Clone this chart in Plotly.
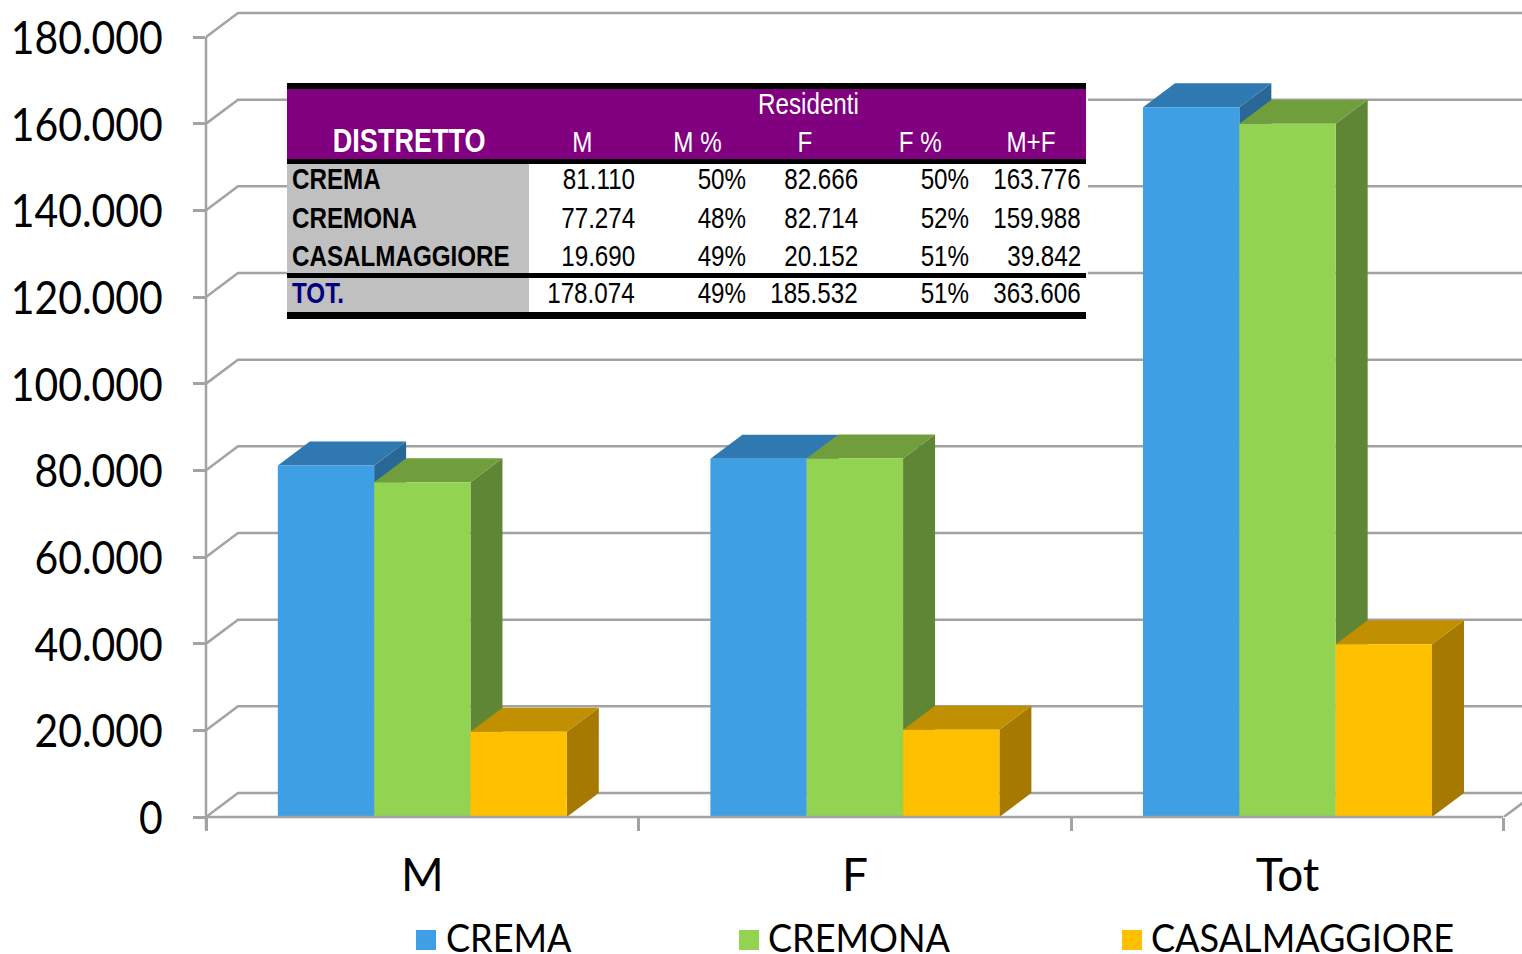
import plotly.graph_objects as go

# ---------- data ----------
CATEGORIES = ["M", "F", "Tot"]
CREMA = [81110, 82666, 163776]
CREMONA = [77274, 82714, 159988]
CASALMAGGIORE = [19690, 20152, 39842]
Y_TICKS = [0, 20000, 40000, 60000, 80000, 100000, 120000, 140000, 160000, 180000]

TABLE_HEAD = ["M", "M %", "F", "F %", "M+F"]
TABLE_NAMES = ["CREMA", "CREMONA", "CASALMAGGIORE", "TOT."]
TABLE_M = ["81.110", "77.274", "19.690", "178.074"]
TABLE_MP = ["50%", "48%", "49%", "49%"]
TABLE_F = ["82.666", "82.714", "20.152", "185.532"]
TABLE_FP = ["50%", "52%", "51%", "51%"]
TABLE_MF = ["163.776", "159.988", "39.842", "363.606"]

# ---------- styling ----------
W, H = 1522, 954
L, B = 206, 817
CAT_PX = 432.6
UNIT_PX = 780 / 180000
DEPTH_X = 32 / CAT_PX
DEPTH_Y = 24 / UNIT_PX
X_MIN = -0.5
X_MAX = X_MIN + (W - L) / CAT_PX
Y_MAX = B / UNIT_PX
BARGAP = 0.332
GRID = "#A3A3A3"
FONT = "Lato"
TFONT = "Liberation Sans"
SERIES = [
    ("CREMA", CREMA, "#3E9FE5", "#3079B0", "#296896"),
    ("CREMONA", CREMONA, "#92D351", "#709E3D", "#5F8634"),
    ("CASALMAGGIORE", CASALMAGGIORE, "#FFC000", "#C09000", "#A67A00"),
]


def px(x):
    return (x - L) / (W - L)


def py(y):
    return (B - y) / B


fig = go.Figure()


def poly(xs, ys, color):
    fig.add_trace(go.Scatter(x=xs, y=ys, mode="lines", fill="toself", fillcolor=color,
                             line=dict(width=0, color=color), hoverinfo="skip", showlegend=False))


def line(xs, ys, axis_x="x", axis_y="y"):
    fig.add_trace(go.Scatter(x=xs, y=ys, mode="lines", xaxis=axis_x, yaxis=axis_y, cliponaxis=False,
                             line=dict(color=GRID, width=2.5), hoverinfo="skip", showlegend=False))


# walls
for v in Y_TICKS:
    line([X_MIN, X_MIN + DEPTH_X, X_MAX], [v, v + DEPTH_Y, v + DEPTH_Y])

# depth faces, painted left to right
group_w = 1 - BARGAP
bar_w = group_w / 3
for c in range(len(CATEGORIES)):
    for s, (_, vals, _f, top, side) in enumerate(SERIES):
        x0 = c - group_w / 2 + s * bar_w
        x1 = x0 + bar_w
        v = vals[c]
        poly([x1, x1 + DEPTH_X, x1 + DEPTH_X, x1, x1], [0, DEPTH_Y, v + DEPTH_Y, v, 0], side)
        poly([x0, x0 + DEPTH_X, x1 + DEPTH_X, x1, x0], [v, v + DEPTH_Y, v + DEPTH_Y, v, v], top)

# front faces on the overlay axes
for name, vals, front, _t, _s in SERIES:
    fig.add_trace(go.Bar(x=list(range(len(CATEGORIES))), y=vals, name=name, xaxis="x2", yaxis="y2",
                         marker=dict(color=front, line=dict(width=0)), showlegend=False))
line([X_MIN + len(CATEGORIES), X_MIN + len(CATEGORIES) + DEPTH_X], [0, DEPTH_Y], "x2", "y2")

shapes = []
annots = []


def rect(x0, y0, x1, y1, color):
    shapes.append(dict(type="rect", xref="paper", yref="paper", x0=px(x0), x1=px(x1), y0=py(y0), y1=py(y1),
                       fillcolor=color, line=dict(width=0), layer="above"))


def text(x, y, s, anchor="center", size=29.5, color="black", bold=False, family=TFONT):
    annots.append(dict(xref="paper", yref="paper", x=px(x), y=py(y), text=s,
                       xanchor=anchor, yanchor="middle", showarrow=False, borderpad=0, borderwidth=0,
                       font=dict(family=family, size=size, color=color, weight=700 if bold else 400)))


# axis lines, so they are not cut in half by the edge of the plot area
rect(L, B - 1.25, 1503, B + 1.25, GRID)
rect(L - 1.25, 37, L + 1.25, B + 13, GRID)

# table
T_L, T_R, T_SPLIT = 287, 1086, 529
rect(T_L, 83, T_R + 2, 319, "white")
rect(T_L, 83, T_R, 89, "black")
rect(T_L, 89, T_R, 159, "#800080")
rect(T_L, 159, T_R, 164, "black")
rect(T_L, 164, T_SPLIT, 312, "#C0C0C0")
rect(T_L, 273, T_R, 278, "black")
rect(T_L, 312, T_R, 319, "black")
text(808, 104, "Residenti", color="white")
text(409, 140, "DISTRETTO", color="white", bold=True, size=33)
for cx, h in zip([582, 697, 805, 920, 1031], TABLE_HEAD):
    text(cx, 141, h, color="white")
ROW_Y = [179, 217, 256, 292]
for i, y in enumerate(ROW_Y):
    text(292, y, TABLE_NAMES[i], "left", bold=True, color="#000080" if i == 3 else "black")
    for rx, col in zip([635, 746, 858, 969, 1081], [TABLE_M, TABLE_MP, TABLE_F, TABLE_FP, TABLE_MF]):
        text(rx, y, col[i], "right")

# legend
for (name, _v, front, _t, _s), sx, tx in zip(SERIES, [416, 739, 1122], [446, 768, 1151]):
    rect(sx, 930, sx + 20, 950, front)
    text(tx, 937, name, "left", size=38, family=FONT)

fig.update_layout(
    width=W, height=H, autosize=False,
    margin=dict(l=L, r=0, t=0, b=H - B, pad=0, autoexpand=False),
    paper_bgcolor="white", plot_bgcolor="white",
    separators=",.", barmode="group", bargap=BARGAP, bargroupgap=0,
    showlegend=False, shapes=shapes, annotations=annots,
    font=dict(family=FONT, color="black"),
    xaxis=dict(range=[X_MIN, X_MAX], showgrid=False, zeroline=False, showline=False, automargin=False,
               tickmode="array", tickvals=list(range(len(CATEGORIES))), ticktext=CATEGORIES,
               ticks="", ticklabelstandoff=27, tickfont=dict(family=FONT, size=46, color="black"),
               minor=dict(tickmode="array", tickvals=[-0.5, 0.5, 1.5, 2.5], ticks="outside", ticklen=13,
                          tickcolor=GRID, tickwidth=2.5, showgrid=False)),
    yaxis=dict(range=[0, Y_MAX], showgrid=False, zeroline=False, showline=False, automargin=False,
               tickmode="array", tickvals=Y_TICKS, tickformat=",d", ticks="outside", ticklen=12,
               tickcolor=GRID, tickwidth=2.5, ticklabelstandoff=21,
               tickfont=dict(family=FONT, size=46, color="black")),
    xaxis2=dict(range=[X_MIN, X_MAX], overlaying="x", visible=False),
    yaxis2=dict(range=[0, Y_MAX], overlaying="y", visible=False),
)

# narrow the glyphs to the condensed widths of the original fonts (no narrow font is installed)
POST = """
var gd = document.getElementById('{plot_id}');
document.body.style.margin = '0';
document.body.style.overflow = 'hidden';
function squeeze(el, f, anchor) {
  var w = el.getComputedTextLength();
  el.setAttribute('textLength', w * f);
  el.setAttribute('lengthAdjust', 'spacingAndGlyphs');
  var x = parseFloat(el.getAttribute('x')) || 0;
  if (anchor === 'right') el.setAttribute('x', x + w * (1 - f) / 2);
  if (anchor === 'left') el.setAttribute('x', x - w * (1 - f) / 2);
}
gd.querySelectorAll('.annotation').forEach(function (g) {
  var a = gd.layout.annotations[+g.getAttribute('data-index')];
  var t = g.querySelector('text');
  squeeze(t, a.font.family === 'Lato' ? 0.95 : 0.82, a.xanchor);
});
gd.querySelectorAll('.ytick text').forEach(function (t) {
  squeeze(t, 0.89, null);
  t.setAttribute('y', (parseFloat(t.getAttribute('y')) || 0) + 1);
});
"""

fig.write_html("out.html", config=dict(displayModeBar=False), post_script=POST)
